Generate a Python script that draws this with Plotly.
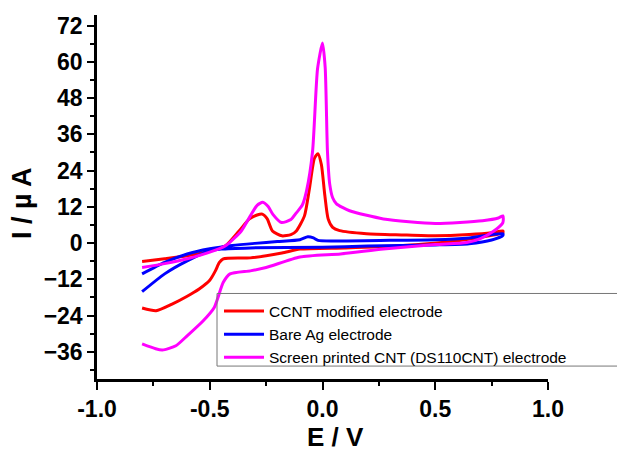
import plotly.graph_objects as go

# ---- data ----
red_E = [-0.80, -0.70, -0.60, -0.50, -0.43, -0.37, -0.324, -0.29, -0.267, -0.245, -0.222, -0.18,
         -0.14, -0.116, -0.08, -0.058, -0.036, -0.02, -0.005, 0.01, 0.025, 0.045, 0.076, 0.195,
         0.35, 0.50, 0.65, 0.75, 0.80,
         0.80, 0.74, 0.60, 0.34, 0.10, -0.10, -0.18, -0.32, -0.44, -0.458, -0.475, -0.50, -0.547,
         -0.60, -0.667, -0.738, -0.80]
red_I = [-6.1, -5.2, -4.2, -2.6, -0.9, 4.0, 8.0, 9.3, 9.6, 8.0, 4.0, 2.4,
         2.8, 4.0, 9.0, 18.0, 28.0, 29.6, 26.0, 16.0, 8.0, 5.2, 4.1, 3.1,
         2.7, 2.4, 2.8, 3.4, 4.0,
         3.4, 2.4, 0.8, -0.9, -1.6, -2.0, -3.3, -4.9, -5.2, -6.5, -9.2, -12.3, -15.2,
         -17.6, -20.2, -22.4, -21.5]

blue_E = [-0.80, -0.70, -0.60, -0.50, -0.40, -0.30, -0.20, -0.10, -0.065, -0.04, -0.02, 0.05,
          0.30, 0.50, 0.65, 0.80,
          0.80, 0.75, 0.65, 0.50, 0.20, 0.00, -0.32, -0.45, -0.50, -0.60, -0.70, -0.80]
blue_I = [-10.2, -6.4, -3.6, -1.9, -0.8, -0.1, 0.5, 1.1, 2.1, 1.7, 0.9, 0.7,
          0.9, 1.1, 1.7, 3.1,
          2.5, 1.0, -0.2, -0.6, -1.0, -1.4, -1.6, -2.0, -2.6, -5.9, -10.2, -16.1]

mag_E = [-0.80, -0.70, -0.60, -0.50, -0.43, -0.36, -0.32, -0.29, -0.265, -0.24, -0.22, -0.182,
         -0.14, -0.116, -0.09, -0.071, -0.044, -0.022, 0.0, 0.012, 0.022, 0.032, 0.045, 0.062,
         0.12, 0.27, 0.50, 0.71, 0.78, 0.80,
         0.80, 0.76, 0.70, 0.64, 0.50, 0.27, 0.08, -0.10, -0.25, -0.32, -0.41, -0.44, -0.48,
         -0.53, -0.60, -0.65, -0.71, -0.74, -0.80]
mag_I = [-8.1, -6.8, -5.2, -3.0, -0.9, 4.0, 9.0, 12.5, 13.5, 12.0, 9.5, 6.8,
         7.8, 10.0, 12.5, 17.2, 30.4, 57.7, 66.2, 58.0, 30.3, 19.5, 15.0, 13.0,
         10.7, 8.0, 6.5, 7.4, 8.3, 9.0,
         6.8, 4.0, 1.5, 0.2, -0.5, -2.0, -3.6, -4.6, -8.1, -9.2, -10.2, -13.0, -21.3,
         -25.8, -30.7, -34.0, -35.4, -35.0, -33.4]

names = ["CCNT modified electrode", "Bare Ag electrode", "Screen printed CNT (DS110CNT) electrode"]
colors = ["#FF0000", "#0000FF", "#FF00FF"]

y_ticks = [-36, -24, -12, 0, 12, 24, 36, 48, 60, 72]
x_ticks = [-1.0, -0.5, 0.0, 0.5, 1.0]
x_labels = ["-1.0", "-0.5", "0.0", "0.5", "1.0"]

fig = go.Figure()
for E, I, n, c in zip([red_E, blue_E, mag_E], [red_I, blue_I, mag_I], names, colors):
    fig.add_trace(go.Scatter(x=E, y=I, mode="lines", name=n,
                             line=dict(color=c, width=3, shape="spline", smoothing=0.6)))

# plot area in screen pixels (page body adds an 8px offset)
L, R, T, B = 97, 548, 13, 379
def px(X):
    return (X - L) / (R - L)
def py(Y):
    return (B - Y) / (B - T)

tickfont = dict(family="Arial", size=23, color="black", weight="bold")
fig.update_layout(
    width=625, height=452,
    margin=dict(l=89, r=85, t=5, b=81),
    paper_bgcolor="white", plot_bgcolor="white",
    showlegend=True,
    legend=dict(x=px(219), y=py(294), xanchor="left", yanchor="top",
                bgcolor="rgba(255,255,255,0)", borderwidth=0,
                font=dict(family="Arial", size=15.5, color="black"),
                tracegroupgap=0, itemwidth=40),
    shapes=[dict(type="rect", xref="paper", yref="paper",
                 x0=px(217), x1=px(624), y0=py(366), y1=py(293),
                 line=dict(color="#777777", width=1), fillcolor="rgba(0,0,0,0)", layer="above")],
    xaxis=dict(range=[-1.0, 1.0], tickvals=x_ticks, ticktext=x_labels,
               ticks="outside", ticklen=8, tickwidth=2, tickcolor="black",
               showline=True, linecolor="black", linewidth=2.5, mirror=False,
               showgrid=False, zeroline=False, tickfont=tickfont,
               minor=dict(dtick=0.25, tick0=0, ticks="outside", ticklen=4, tickwidth=2, tickcolor="black")),
    yaxis=dict(range=[-45, 75.5], tickvals=y_ticks,
               ticks="outside", ticklen=7, tickwidth=2, tickcolor="black",
               showline=True, linecolor="black", linewidth=2.5, mirror=False,
               showgrid=False, zeroline=False, tickfont=tickfont,
               minor=dict(dtick=6, tick0=0, ticks="outside", ticklen=4, tickwidth=2, tickcolor="black")),
    annotations=[
        dict(text="E / V", xref="paper", yref="paper", x=px(335), y=py(437),
             showarrow=False, xanchor="center", yanchor="middle",
             font=dict(family="Arial", size=26, color="black", weight="bold")),
        dict(text="I / µ A", xref="paper", yref="paper", x=px(22), y=py(202),
             showarrow=False, xanchor="center", yanchor="middle", textangle=-90,
             font=dict(family="Arial", size=27, color="black", weight="bold")),
    ],
)

fig.write_html("out.html")
